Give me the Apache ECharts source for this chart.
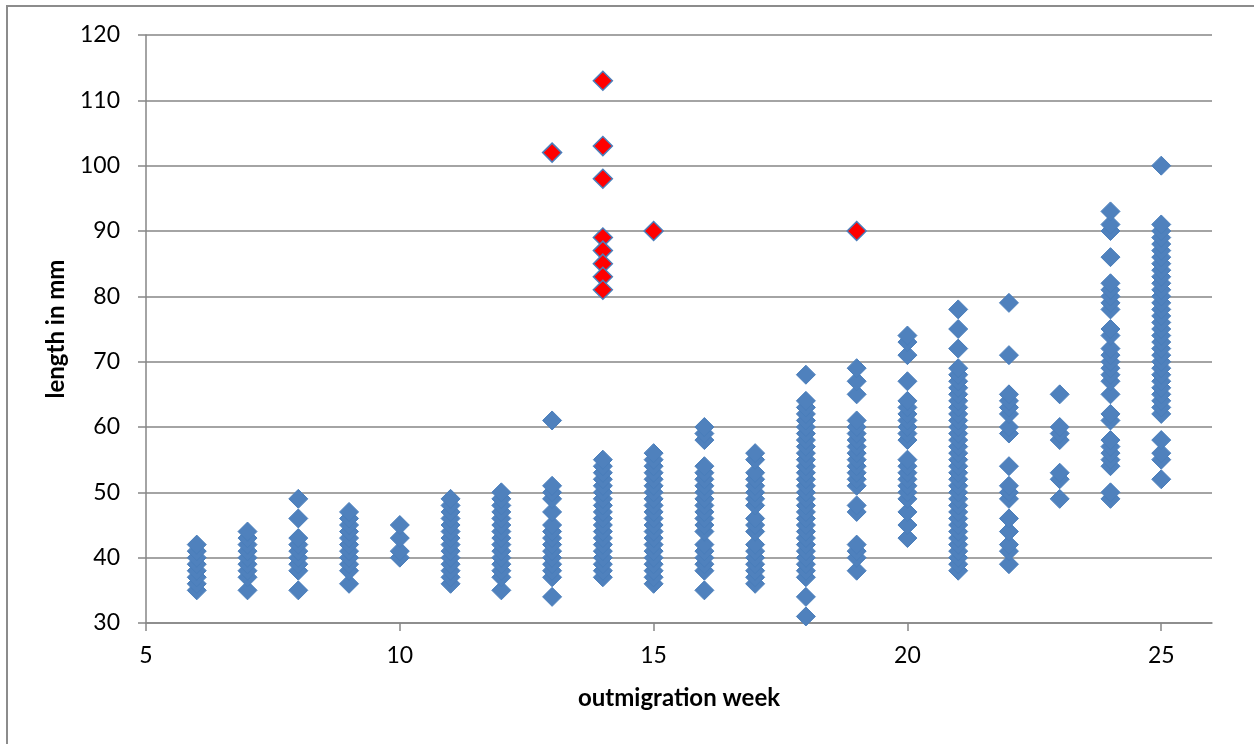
<!DOCTYPE html>
<html>
<head>
<meta charset="utf-8">
<script src="https://cdn.jsdelivr.net/npm/echarts@6/dist/echarts.min.js"></script>
<style>
html, body { margin: 0; padding: 0; background: #fff; overflow: hidden; }
#frame {
  position: absolute; left: 6px; top: 5px; width: 1300px; height: 800px;
  border: 2px solid #8c8c8c; box-sizing: border-box;
}
#chart { position: absolute; left: 0; top: 0; width: 1254px; height: 744px; }
</style>
</head>
<body>
<div id="frame"></div>
<div id="chart"></div>
<script>
// weeks and fish lengths (mm)
const weeks = [6, 7, 8, 9, 10, 11, 12, 13, 14, 15, 16, 17, 18, 19, 20, 21, 22, 23, 24, 25]
const lengthsByWeek = [
  [35, 36, 37, 38, 39, 40, 41, 42],
  [35, 37, 38, 39, 40, 41, 42, 43, 44],
  [35, 38, 39, 40, 41, 42, 43, 46, 49],
  [36, 38, 39, 40, 41, 42, 43, 44, 45, 46, 47],
  [40, 41, 43, 45],
  [36, 37, 38, 39, 40, 41, 42, 43, 44, 45, 46, 47, 48, 49],
  [35, 37, 38, 39, 40, 41, 42, 43, 44, 45, 46, 47, 48, 49, 50],
  [34, 37, 38, 39, 40, 41, 42, 43, 44, 45, 47, 49, 50, 51, 61],
  [37, 38, 39, 40, 41, 42, 43, 44, 45, 46, 47, 48, 49, 50, 51, 52, 53, 54, 55],
  [36, 37, 38, 39, 40, 41, 42, 43, 44, 45, 46, 47, 48, 49, 50, 51, 52, 53, 54, 55, 56],
  [35, 38, 39, 40, 41, 42, 44, 45, 46, 47, 48, 49, 50, 51, 52, 53, 54, 58, 59, 60],
  [36, 37, 38, 39, 40, 41, 42, 44, 45, 46, 48, 49, 50, 51, 52, 53, 55, 56],
  [31, 34, 37, 38, 39, 40, 41, 42, 43, 44, 45, 46, 47, 48, 49, 50, 51, 52, 53, 54, 55, 56, 57, 58, 59, 60, 61, 62, 63, 64, 68],
  [38, 40, 41, 42, 47, 48, 51, 52, 53, 54, 55, 56, 57, 58, 59, 60, 61, 65, 67, 69],
  [43, 45, 47, 49, 50, 51, 52, 53, 54, 55, 58, 59, 60, 61, 62, 63, 64, 67, 71, 73, 74],
  [38, 39, 40, 41, 42, 43, 44, 45, 46, 47, 48, 49, 50, 51, 52, 53, 54, 55, 56, 57, 58, 59, 60, 61, 62, 63, 64, 65, 66, 67, 68, 69, 72, 75, 78],
  [39, 41, 42, 44, 46, 49, 50, 51, 54, 59, 60, 62, 63, 64, 65, 71, 79],
  [49, 52, 53, 58, 59, 60, 65],
  [49, 50, 54, 55, 56, 57, 58, 61, 62, 65, 67, 68, 69, 70, 71, 72, 74, 75, 78, 79, 80, 81, 82, 86, 90, 91, 93],
  [52, 55, 56, 58, 62, 63, 64, 65, 66, 67, 68, 69, 70, 71, 72, 73, 74, 75, 76, 77, 78, 79, 80, 81, 82, 83, 84, 85, 86, 87, 88, 89, 90, 91, 100]
]
// highlighted (red) fish
const redWeeks = [13, 14, 14, 14, 14, 14, 14, 14, 14, 15, 19]
const redLengths = [102, 113, 103, 98, 89, 87, 85, 83, 81, 90, 90]

const xTickValues = [5, 10, 15, 20, 25]
const xRange = [5, 26]
const yRange = [30, 120]

const bluePoints = []
weeks.forEach((w, i) => {
  lengthsByWeek[i].forEach(v => bluePoints.push([w, v]))
})
const redPoints = redWeeks.map((w, i) => [w, redLengths[i]])

const font = 'Lato, "Open Sans", sans-serif'
const axisGray = '#868686'

const chart = echarts.init(document.getElementById('chart'))
chart.setOption({
  animation: false,
  grid: { left: 146, top: 35, right: 42, bottom: 121, containLabel: false },
  xAxis: {
    type: 'value',
    min: xRange[0],
    max: xRange[1],
    interval: 5,
    name: 'outmigration week',
    nameLocation: 'middle',
    nameGap: 63,
    nameTextStyle: { fontFamily: font, fontSize: 24, fontWeight: 'bold', color: '#000' },
    axisLine: { show: true, lineStyle: { color: axisGray, width: 1.5 } },
    axisTick: { show: true, length: 8, customValues: xTickValues, lineStyle: { color: axisGray, width: 1.5 } },
    axisLabel: {
      fontFamily: font, fontSize: 23, color: '#000', margin: 21,
      customValues: xTickValues
    },
    splitLine: { show: false }
  },
  yAxis: {
    type: 'value',
    min: yRange[0],
    max: yRange[1],
    interval: 10,
    name: 'length in mm',
    nameLocation: 'middle',
    nameGap: 78,
    nameRotate: 90,
    nameTextStyle: { fontFamily: font, fontSize: 24, fontWeight: 'bold', color: '#000' },
    axisLine: { show: true, lineStyle: { color: axisGray, width: 1.5 } },
    axisTick: { show: true, length: 8, lineStyle: { color: axisGray, width: 1.5 } },
    axisLabel: { fontFamily: font, fontSize: 23, color: '#000', margin: 26 },
    splitLine: { show: true, lineStyle: { color: axisGray, width: 1.5 } }
  },
  series: [
    {
      name: 'length',
      type: 'scatter',
      symbol: 'diamond',
      symbolSize: 19,
      itemStyle: { color: '#4F81BD', borderColor: '#4A7EBB', borderWidth: 1, opacity: 1 },
      data: bluePoints
    },
    {
      name: 'flagged',
      type: 'scatter',
      symbol: 'diamond',
      symbolSize: 19,
      itemStyle: { color: '#FF0000', borderColor: '#4A7EBB', borderWidth: 1.5, opacity: 1 },
      data: redPoints
    }
  ]
})
</script>
</body>
</html>
